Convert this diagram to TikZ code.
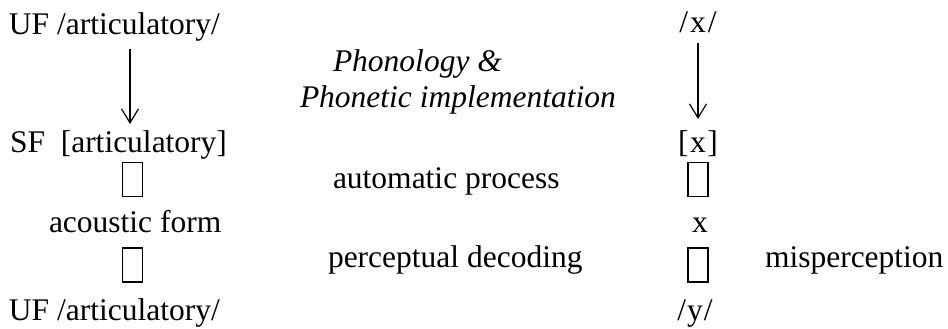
\documentclass[tikz,border=0pt]{standalone}
\usepackage{fontspec}
\setmainfont{Liberation Serif}
\usetikzlibrary{arrows.meta}
\tikzset{
  lbl/.style={inner sep=0pt, outer sep=0pt, font=\fontsize{31.5}{36}\selectfont},
  itlbl/.style={lbl, font=\fontsize{31.5}{36}\selectfont\itshape},
  glyphbox/.style={draw, line width=1.6pt, minimum width=20pt, minimum height=34pt, inner sep=0pt},
  derive/.style={line width=1.2pt, -{Straight Barb[length=14pt, width=17pt, line width=1.2pt]}}
}
\begin{document}
\begin{tikzpicture}[x=1pt, y=-1pt]
\useasboundingbox (0,0) rectangle (948,329);

% left column: forms of the grammar
\node[lbl, anchor=base west] (ufA) at (9,35) {UF /articulatory/};
\node[lbl, anchor=base west] (sf) at (10,152) {SF\ \ [articulatory]};
\node[glyphbox] (bl1) at (132.5,179.5) {};
\node[lbl, anchor=base west] (ac) at (49,232) {acoustic form};
\node[glyphbox] (bl2) at (132.5,265) {};
\node[lbl, anchor=base west] (ufB) at (9,320) {UF /articulatory/};

% right column: the example
\node[lbl, anchor=base] (rx) at (698,33) {/\hspace{2pt}x\hspace{2pt}/};
\node[lbl, anchor=base] (rsx) at (698,152) {[\hspace{1.5pt}x\hspace{1.5pt}]};
\node[glyphbox] (br1) at (698,179.5) {};
\node[lbl, anchor=base] (rax) at (700,232) {x};
\node[glyphbox] (br2) at (698,265) {};
\node[lbl, anchor=base] (ry) at (695,320) {/\hspace{1pt}y\hspace{1pt}/};

% middle labels
\node[itlbl, anchor=base west] (ph1) at (333,72) {Phonology \&};
\node[itlbl, anchor=base west] (ph2) at (300,107) {Phonetic implementation};
\node[lbl, anchor=base west] (auto) at (333,188) {automatic process};
\node[lbl, anchor=base west] (perc) at (328,267) {perceptual decoding};
\node[lbl, anchor=base west] (mis) at (765,267) {misperception};

% derivation arrows
\coordinate (la) at (130,49);
\coordinate (lb) at (130,124);
\coordinate (ra) at (698,43);
\coordinate (rb) at (698,119);
\draw[derive] (la) -- (lb);
\draw[derive] (ra) -- (rb);
\end{tikzpicture}
\end{document}
